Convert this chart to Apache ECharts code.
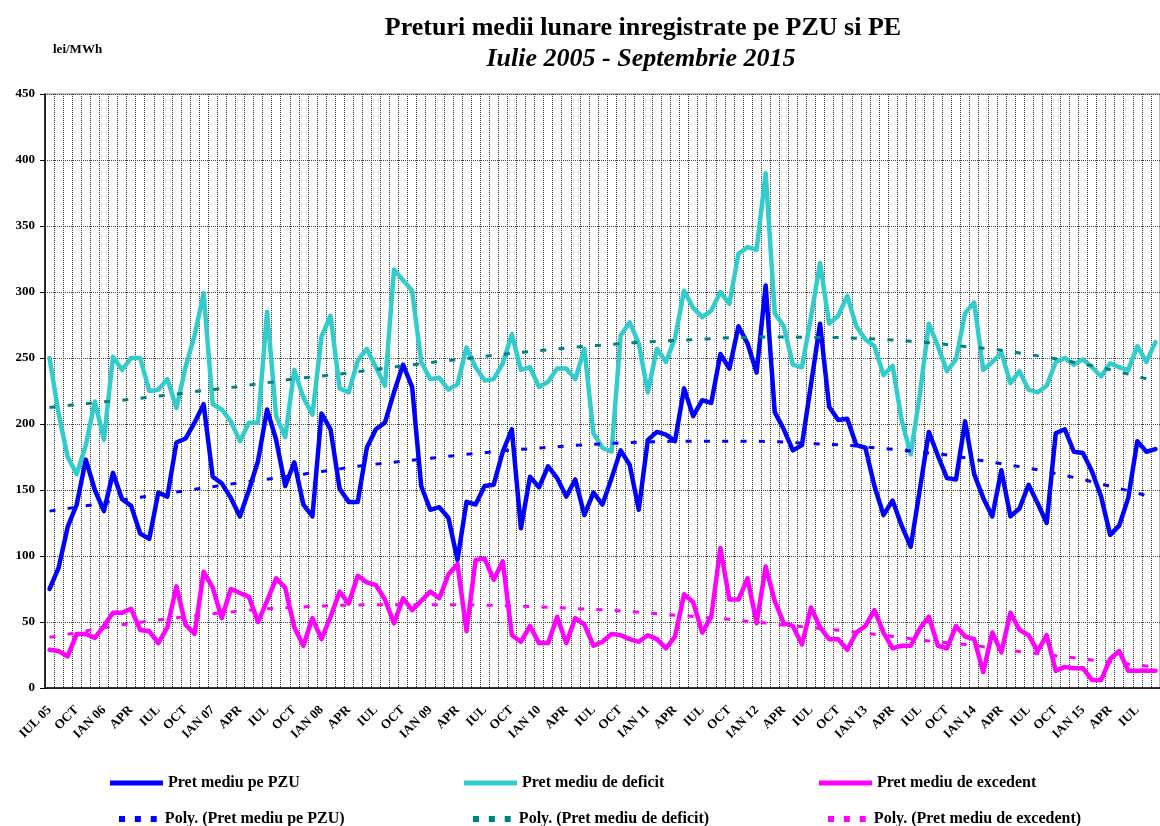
<!DOCTYPE html>
<html>
<head>
<meta charset="utf-8">
<script src="https://cdn.jsdelivr.net/npm/echarts@6/dist/echarts.min.js"></script>
<style>
  html, body { margin: 0; padding: 0; background: #fff; overflow: hidden; }
  #main { width: 1160px; height: 826px; }
</style>
</head>
<body>
<div id="main"></div>
<script>
// luni: iulie 2005 - septembrie 2015
var monthNames = ['IAN', 'FEB', 'MAR', 'APR', 'MAI', 'IUN', 'IUL', 'AUG', 'SEP', 'OCT', 'NOI', 'DEC'];
var firstYear = 2005;
var firstMonth = 6;

var seriesNames = ['Pret mediu pe PZU', 'Pret mediu de deficit', 'Pret mediu de excedent'];

var pretPZU = [75, 91, 122, 139, 173, 150, 134, 163, 143, 138, 117, 113, 148, 145, 186, 189, 201, 215, 160, 155,
  144, 130, 150, 172, 211, 188, 153, 171, 139, 130, 208, 196, 151, 141, 141, 182, 196, 201, 224, 245,
  228, 153, 135, 137, 129, 97, 141, 139, 153, 154, 179, 196, 121, 160, 152, 168, 159, 145, 158, 131,
  148, 139, 159, 180, 169, 135, 188, 194, 192, 187, 227, 206, 218, 216, 253, 242, 274, 261, 239, 305,
  209, 196, 180, 184, 230, 276, 213, 203, 204, 184, 182, 153, 131, 142, 123, 107, 150, 194, 176, 159,
  158, 202, 162, 144, 130, 165, 130, 136, 154, 140, 125, 193, 196, 179, 178, 164, 145, 116, 123, 144,
  187, 179, 181];

var pretDeficit = [250, 208, 175, 162, 184, 217, 188, 251, 241, 250, 250, 225, 226, 234, 212, 243, 267, 299, 215, 211,
  202, 187, 201, 201, 285, 206, 190, 241, 220, 207, 266, 282, 227, 224, 248, 257, 243, 229, 317, 309,
  301, 247, 234, 235, 226, 230, 258, 243, 233, 234, 246, 268, 241, 243, 228, 232, 242, 242, 234, 257,
  193, 182, 179, 267, 277, 261, 224, 257, 247, 265, 301, 288, 281, 286, 300, 291, 329, 334, 332, 390,
  284, 274, 245, 243, 281, 322, 276, 282, 297, 274, 264, 259, 237, 244, 203, 177, 222, 276, 259, 240,
  249, 284, 292, 241, 247, 254, 231, 240, 226, 224, 229, 247, 250, 245, 249, 243, 236, 246, 243, 241,
  259, 247, 262];

var pretExcedent = [29, 28, 24, 41, 41, 38, 47, 57, 57, 60, 44, 43, 34, 46, 77, 48, 41, 88, 76, 53,
  75, 72, 69, 50, 66, 83, 76, 46, 32, 53, 37, 54, 73, 64, 85, 80, 78, 67, 49, 68,
  59, 66, 73, 68, 86, 94, 43, 97, 98, 82, 96, 40, 35, 47, 34, 34, 54, 34, 53, 48,
  32, 35, 41, 40, 37, 35, 40, 37, 30, 39, 71, 65, 42, 54, 106, 67, 67, 83, 49, 92,
  66, 49, 47, 33, 61, 46, 37, 37, 29, 42, 47, 59, 42, 30, 32, 32, 45, 54, 32, 30,
  47, 39, 37, 12, 42, 27, 57, 44, 40, 28, 40, 13, 16, 15, 15, 6, 6, 22, 28, 13,
  13, 13, 13];

// linii de tendinta (Poly.)
var polyPZU = [134, 135, 136, 137, 138, 139, 140.5, 141.5, 142.5, 143.5, 144.5, 145.5, 146.5, 147.5, 148.5, 149.5, 150.5, 151.5, 152.5, 153.5,
  154.5, 155.5, 156.5, 157.3, 158.2, 159, 160, 161, 162, 163, 164, 165, 166, 167, 168, 168.8, 169.6, 170.4, 171.1, 171.8,
  172.6, 173.3, 174, 174.8, 175.5, 176.2, 177, 177.7, 178.3, 179, 179.8, 180.3, 180.8, 181.3, 181.8, 182.3, 182.8, 183.3, 183.8, 184.2,
  184.6, 185, 185.3, 185.6, 185.9, 186.2, 186.4, 186.6, 186.8, 186.9, 186.9, 186.9, 186.9, 186.9, 186.9, 186.9, 186.9, 186.9, 186.9, 186.8,
  186.7, 186.4, 186, 185.6, 185.2, 184.8, 184.5, 184.2, 183.8, 183.3, 182.7, 182, 181.4, 180.8, 180.2, 179.5, 178.8, 178.1, 177.3, 176.5,
  175.6, 174.5, 173.2, 172.1, 171, 169.9, 168.8, 167.7, 166.6, 165.3, 164, 162.5, 161, 159.5, 158, 156.3, 154.6, 152.8, 151.2, 149.4,
  147.6, 145.8, 144];

var polyDeficit = [212.5, 213.3, 214.1, 214.8, 215.4, 216.1, 216.8, 217.4, 218, 218.7, 219.5, 220.3, 221.1, 221.8, 222.7, 223.6, 224.5, 225.4, 226.1, 226.9,
  227.7, 228.5, 229.5, 230.5, 231.3, 232, 233.2, 234.3, 235, 235.7, 236.3, 237.1, 237.9, 238.7, 239.6, 240.5, 241.4, 242.3, 243.2, 244,
  244.8, 245.7, 246.5, 247.3, 248.1, 248.8, 249.6, 250.4, 251.3, 252, 252.8, 253.5, 254.2, 254.9, 255.5, 256.2, 256.9, 257.6, 258.3, 258.8,
  259.3, 259.8, 260.3, 260.8, 261.4, 261.8, 262.2, 262.6, 262.9, 263.3, 263.6, 263.9, 264.3, 264.7, 265, 265.3, 265.5, 265.7, 265.9, 266,
  266, 266, 265.9, 265.8, 265.7, 265.6, 265.5, 265.5, 265.4, 264.9, 264.6, 264.4, 264, 263.7, 263.2, 262.7, 262.2, 261.6, 260.9, 260.2,
  259.5, 258.7, 258.1, 257.4, 256.7, 255.8, 254.9, 253.8, 252.7, 251.6, 250.6, 249.4, 248.1, 246.8, 245.6, 244.2, 242.7, 241.2, 239.6, 237.9,
  236, 234.3, 232.5];

var polyExcedent = [38.4, 39.5, 40.7, 42, 43.2, 44.5, 45.7, 46.9, 47.9, 48.8, 49.8, 50.8, 51.6, 52.4, 53.2, 54, 54.8, 55.6, 56.3, 57,
  57.6, 58.3, 59, 59.7, 60.1, 60.4, 60.8, 61.1, 61.4, 61.8, 62.1, 62.4, 62.6, 62.8, 62.9, 63, 63, 63.1, 63.1, 63.1,
  63.1, 63.1, 63.1, 63.1, 63.1, 63, 63, 62.9, 62.8, 62.6, 62.4, 62.2, 61.9, 61.7, 61.5, 61.2, 61, 60.6, 60.2, 59.8,
  59.5, 59.2, 58.9, 58.4, 57.9, 57.4, 56.9, 56.3, 55.8, 55.2, 54.7, 54.1, 53.6, 53.1, 52.6, 52.1, 51.3, 50.5, 49.8, 49.2,
  48.5, 47.8, 47.1, 46.5, 45.8, 45.1, 44.4, 43.7, 43, 42.2, 41.5, 40.8, 40, 39.1, 38.3, 37.3, 36.4, 35.7, 35, 34.2,
  33.6, 33, 32.3, 31.2, 30.1, 29.2, 28.5, 27.7, 26.9, 26.1, 25.3, 24.4, 23.6, 22.9, 22.1, 21.2, 20.4, 19.6, 18.9, 18.1,
  17.4, 16.7, 16];

var categories = [];
for (var i = 0; i < pretPZU.length; i++) {
    var m = (firstMonth + i) % 12;
    var y = firstYear + Math.floor((firstMonth + i) / 12);
    var yy = String(y).slice(2);
    categories.push((i === 0 || m === 0) ? monthNames[m] + ' ' + yy : monthNames[m]);
}

var serif = '"Liberation Serif", "Times New Roman", serif';
var blue = '#0000FF', teal = '#33CCCC', magenta = '#FF00FF', darkTeal = '#008080';
var dotsIcon = 'path://M0,0h7v7h-7zM18.5,0h7v7h-7zM37,0h7v7h-7z';

function mainLine(name, data, color) {
    return {
        name: name, type: 'line', data: data, symbol: 'none',
        lineStyle: { color: color, width: 4.5, cap: 'round', join: 'round' },
        itemStyle: { color: color }
    };
}
function polyLine(name, data, color) {
    return {
        name: 'Poly. (' + name + ')', type: 'line', data: data, symbol: 'none',
        lineStyle: { color: color, width: 3, type: [6, 12.3] },
        itemStyle: { color: color }
    };
}
function legendItem(name, left, top, poly) {
    return {
        data: [name], left: left, top: top,
        icon: poly ? dotsIcon : 'rect',
        itemWidth: poly ? 44 : 53,
        itemHeight: poly ? 6 : 5,
        selectedMode: false,
        textStyle: { fontFamily: serif, fontWeight: 'bold', fontSize: 16, color: '#000' }
    };
}

var dom = document.getElementById('main');
var myChart = echarts.init(dom);
var option = {
    backgroundColor: '#fff',
    animation: false,
    graphic: [
        { type: 'text', x: 643, y: 28, style: { text: 'Preturi medii lunare inregistrate pe PZU si PE', textAlign: 'center', textVerticalAlign: 'middle', font: 'bold 26px ' + serif, fill: '#000' } },
        { type: 'text', x: 641, y: 59, style: { text: 'Iulie 2005 - Septembrie 2015', textAlign: 'center', textVerticalAlign: 'middle', font: 'italic bold 26px ' + serif, fill: '#000' } },
        { type: 'text', x: 53, y: 50, style: { text: 'lei/MWh', textAlign: 'left', textVerticalAlign: 'middle', font: 'bold 13px ' + serif, fill: '#000' } }
    ],
    legend: [
        legendItem(seriesNames[0], 105, 770),
        legendItem(seriesNames[1], 459, 770),
        legendItem(seriesNames[2], 814, 770),
        legendItem('Poly. (' + seriesNames[0] + ')', 114, 806, true),
        legendItem('Poly. (' + seriesNames[1] + ')', 468, 806, true),
        legendItem('Poly. (' + seriesNames[2] + ')', 823, 806, true)
    ],
    grid: { left: 45, right: -8, top: 94, bottom: 138, show: true, borderColor: '#808080', borderWidth: 1, backgroundColor: 'transparent' },
    xAxis: {
        type: 'category',
        data: categories,
        boundaryGap: true,
        axisLine: { lineStyle: { color: '#000', width: 1.5 } },
        axisTick: { interval: 0, length: 4, lineStyle: { color: '#000' } },
        axisLabel: { interval: 2, rotate: 45, margin: 20, color: '#000', fontFamily: serif, fontWeight: 'bold', fontSize: 13 },
        splitLine: { show: true, interval: 0, lineStyle: { color: '#333', type: 'dotted', width: 1 } }
    },
    yAxis: {
        type: 'value',
        min: 0, max: 450, interval: 50,
        axisLine: { show: true, lineStyle: { color: '#000', width: 1.5 } },
        axisTick: { show: true, length: 5, lineStyle: { color: '#000' } },
        axisLabel: { color: '#000', fontFamily: serif, fontWeight: 'bold', fontSize: 13, margin: 10 },
        splitLine: { show: true, lineStyle: { color: '#444', type: 'dotted', width: 1 } }
    },
    series: [
        mainLine(seriesNames[0], pretPZU, blue),
        mainLine(seriesNames[1], pretDeficit, teal),
        mainLine(seriesNames[2], pretExcedent, magenta),
        polyLine(seriesNames[0], polyPZU, blue),
        polyLine(seriesNames[1], polyDeficit, darkTeal),
        polyLine(seriesNames[2], polyExcedent, magenta)
    ]
};

if (option && typeof option === 'object') {
    myChart.setOption(option, true);
}
</script>
</body>
</html>
